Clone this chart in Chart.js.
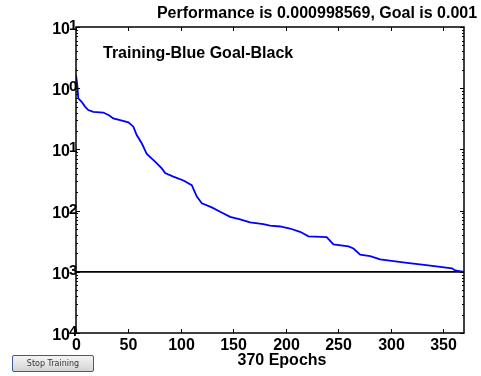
<!DOCTYPE html>
<html>
<head>
<meta charset="utf-8">
<script src="https://cdn.jsdelivr.net/npm/chart.js@4"></script>
<style>
    body { margin: 0; background: #fff; }
    #wrap { position: relative; width: 481px; height: 376px; }
    #stop {
        position: absolute; left: 12px; top: 355px; width: 82px; height: 17px;
        font: 8px "DejaVu Sans", sans-serif; color: #333; padding: 0;
        background: linear-gradient(#f4f4f4, #d4d4d4);
        border: 1px solid #3a5e8c; border-radius: 2px;
    }
</style>
</head>
<body>
<div id="wrap">
    <canvas id="perf" width="481" height="376"></canvas>
    <button id="stop">Stop Training</button>
</div>
<script>
const epochs = [0, 1.2, 2.2, 3.8, 5.4, 8.6, 11.7, 16.5, 26, 31, 35.6, 42, 50, 54.7, 58, 62.7, 67.5,
    75.4, 81.8, 85, 92.8, 102.4, 110.4, 115.2, 120, 129.5, 137.4, 147, 156.5, 166, 178.7, 185,
    194.7, 204, 213.7, 221.7, 239, 245.5, 259.8, 264.6, 271, 280.5, 290, 302.8, 315.6, 328,
    337.8, 358.5, 361.6, 370];
const performance = [1.64, 1.13, 0.68, 0.64, 0.60, 0.50, 0.44, 0.41, 0.40, 0.365, 0.32, 0.30,
    0.277, 0.235, 0.17, 0.126, 0.084, 0.063, 0.049, 0.041, 0.036, 0.031, 0.026, 0.0169, 0.0132,
    0.0113, 0.0096, 0.0079, 0.0072, 0.0064, 0.0060, 0.0057, 0.0055, 0.0051, 0.0045, 0.0038,
    0.0037, 0.0028, 0.0026, 0.0024, 0.0019, 0.0018, 0.0016, 0.0015, 0.0014, 0.00132, 0.00126,
    0.00114, 0.00105, 0.000998569];
const goal = 0.001;
const xTicks = [0, 50, 100, 150, 200, 250, 300, 350];
const yExponents = [1, 0, -1, -2, -3, -4];

const FONT = 'bold 16px Arial, "Liberation Sans", sans-serif';

const axesPlugin = {
    id: 'matlabAxes',
    afterDatasetsDraw(chart) {
        const ctx = chart.ctx;
        const a = chart.chartArea;
        const xs = chart.scales.x, ys = chart.scales.y;
        ctx.save();
        ctx.strokeStyle = '#000';
        ctx.fillStyle = '#000';
        ctx.lineWidth = 1.5;
        ctx.strokeRect(a.left, a.top, a.right - a.left, a.bottom - a.top);

        // x ticks, inward top and bottom
        ctx.lineWidth = 1;
        ctx.font = FONT;
        ctx.textAlign = 'center';
        ctx.textBaseline = 'middle';
        xTicks.forEach(v => {
            const px = Math.round(xs.getPixelForValue(v)) + 0.5;
            ctx.beginPath();
            ctx.moveTo(px, a.bottom); ctx.lineTo(px, a.bottom - 4);
            ctx.moveTo(px, a.top); ctx.lineTo(px, a.top + 4);
            ctx.stroke();
            ctx.fillText(String(v), px, a.bottom + 13);
        });

        // y ticks, log decades plus minor ticks
        yExponents.forEach((e, i) => {
            const py = Math.round(ys.getPixelForValue(Math.pow(10, e))) + 0.5;
            ctx.beginPath();
            ctx.moveTo(a.left, py); ctx.lineTo(a.left + 4, py);
            ctx.moveTo(a.right, py); ctx.lineTo(a.right - 4, py);
            ctx.stroke();
            if (i < yExponents.length - 1) {
                for (let m = 2; m <= 9; m++) {
                    const my = Math.round(ys.getPixelForValue(m * Math.pow(10, e - 1))) + 0.5;
                    ctx.beginPath();
                    ctx.moveTo(a.left, my); ctx.lineTo(a.left + 2, my);
                    ctx.moveTo(a.right, my); ctx.lineTo(a.right - 2, my);
                    ctx.stroke();
                }
            }
            ctx.font = FONT;
            ctx.textAlign = 'right';
            ctx.fillText('10', a.left - 6, py + 2);
            ctx.textAlign = 'left';
            ctx.font = 'bold 15px Arial, "Liberation Sans", sans-serif';
            ctx.fillText(String(Math.abs(e)), a.left - 7, py - 2);
        });

        ctx.font = FONT;
        ctx.textAlign = 'center';
        ctx.fillText('Performance is 0.000998569, Goal is 0.001', 317, 14);
        ctx.fillText('370 Epochs', 282, 361);
        ctx.textAlign = 'left';
        ctx.fillText('Training-Blue Goal-Black', 103, 54);
        ctx.restore();
    }
};

new Chart(document.getElementById('perf'), {
    type: 'scatter',
    data: {
        datasets: [
            {
                label: 'Training',
                data: epochs.map((e, i) => ({ x: e, y: performance[i] })),
                showLine: true,
                borderColor: 'rgb(0, 0, 255)',
                borderWidth: 1.8,
                pointRadius: 0,
                order: 0,
            },
            {
                label: 'Goal',
                data: [{ x: 0, y: goal }, { x: 370, y: goal }],
                showLine: true,
                borderColor: '#000',
                borderWidth: 1.8,
                pointRadius: 0,
                order: 1,
            },
        ],
    },
    options: {
        responsive: false,
        animation: false,
        layout: { padding: { left: 76, top: 27, right: 17, bottom: 43 } },
        plugins: { legend: { display: false }, tooltip: { enabled: false } },
        scales: {
            x: { type: 'linear', min: 0, max: 370, display: false },
            y: { type: 'logarithmic', min: 1e-4, max: 10, display: false },
        },
    },
    plugins: [axesPlugin],
});
</script>
</body>
</html>
